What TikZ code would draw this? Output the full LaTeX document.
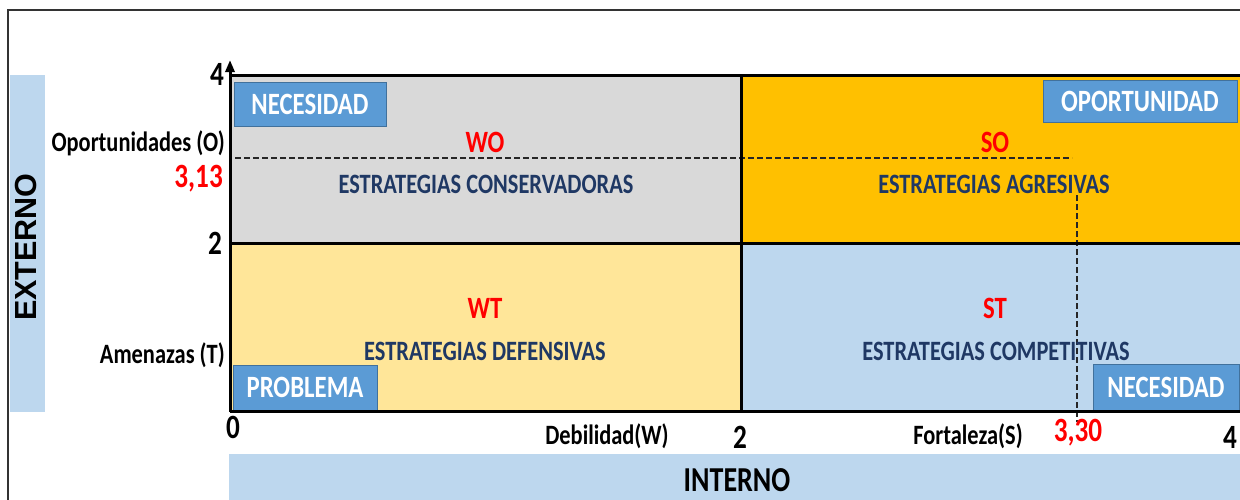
\documentclass[tikz,border=0pt]{standalone}
\usepackage{fontspec}
\usepackage{tikz}
\usetikzlibrary{arrows.meta}
\newfontfamily\calib{Carlito}[FakeStretch=0.8]
\newfontfamily\arialb{Liberation Sans}
\definecolor{gris}{HTML}{D9D9D9}
\definecolor{naranja}{HTML}{FFC000}
\definecolor{amarillo}{HTML}{FFE699}
\definecolor{celeste}{HTML}{BDD7EE}
\definecolor{azulcaja}{HTML}{5B9BD5}
\definecolor{bordecaja}{HTML}{41719C}
\definecolor{azultexto}{HTML}{1F3864}
\tikzset{
  etiq/.style={font=\calib\bfseries\fontsize{28}{30}\selectfont, inner sep=0pt},
  estr/.style={etiq, text=azultexto, anchor=base},
  cuad/.style={font=\calib\bfseries\fontsize{31}{33}\selectfont, text=red, inner sep=0pt, anchor=base},
  num/.style={font=\calib\bfseries\fontsize{34}{36}\selectfont, inner sep=0pt},
  valor/.style={font=\calib\bfseries\fontsize{34}{36}\selectfont, text=red, inner sep=0pt},
  caja/.style={fill=azulcaja, draw=bordecaja, line width=1pt, text=white,
    font=\calib\bfseries\fontsize{31}{33}\selectfont, inner sep=0pt},
  linea/.style={line width=3pt, black},
  guia/.style={line width=1.1pt, black!85, dash pattern=on 6pt off 3pt}
}

\begin{document}
\begin{tikzpicture}[x=1pt,y=-1pt]
\useasboundingbox (0,0) rectangle (1240,499);
% bandas
\fill [celeste] (10,75) rectangle (45,412);
\fill [celeste] (229,454) rectangle (1250,510);
\draw [line width=1.5pt, black!80] (8,510) -- (8,10) -- (1250,10);
% cuadrantes
\fill [gris] (230,75) rectangle (741,243);
\fill [naranja] (741,75) rectangle (1250,243);
\fill [amarillo] (230,243) rectangle (741,411);
\fill [celeste] (741,243) rectangle (1250,411);
% valores
\draw [guia] (235,158) -- (1072,158);
\draw [guia] (1077,195) -- (1077,422);
% cajas
\node [caja, minimum width=152pt, minimum height=44pt] (necesidad1) at (310,104) {NECESIDAD};
\node [caja, minimum width=194pt, minimum height=42pt] (oportunidad) at (1140,101) {OPORTUNIDAD};
\node [caja, minimum width=144pt, minimum height=45pt] (problema) at (305,387.5) {PROBLEMA};
\node [caja, minimum width=146pt, minimum height=46pt] (necesidad2) at (1166,387) {NECESIDAD};
% ejes
\draw [linea] (230,75) -- (1250,75);
\draw [linea] (230,243) -- (1250,243);
\draw [linea] (230,411) -- (1250,411);
\draw [linea] (741,75) -- (741,411);
\draw [linea, -{Triangle[width=9pt,length=12pt]}] (230,412) -- (230,60);
% textos
\draw (485,152) node [cuad] (wo) {WO};
\draw (486,193) node [estr] (conserv) {ESTRATEGIAS CONSERVADORAS};
\draw (995,152) node [cuad] (so) {SO};
\draw (994,193) node [estr] (agres) {ESTRATEGIAS AGRESIVAS};
\draw (485,318) node [cuad] (wt) {WT};
\draw (485,360) node [estr] (defens) {ESTRATEGIAS DEFENSIVAS};
\draw (995,318) node [cuad] (st) {ST};
\draw (996,360) node [estr] (compet) {ESTRATEGIAS COMPETITIVAS};
\draw (225,151) node [etiq, anchor=base east] (oport) {Oportunidades (O)};
\draw (223,187) node [valor, anchor=base east] (vo) {3,13};
\draw (225,363) node [etiq, anchor=base east] (amen) {Amenazas (T)};
\draw (224,85) node [num, anchor=base east] (y4) {4};
\draw (222,254) node [num, anchor=base east] (y2) {2};
\draw (233,438) node [num, anchor=base] (x0) {0};
\draw (607,444) node [etiq, anchor=base] (debil) {Debilidad(W)};
\draw (740,448) node [num, anchor=base] (x2) {2};
\draw (968,444) node [etiq, anchor=base] (fort) {Fortaleza(S)};
\draw (1078,441) node [valor, anchor=base] (vs) {3,30};
\draw (1230,448) node [num, anchor=base] (x4) {4};
\draw (26,247) node [font=\arialb\bfseries\fontsize{30.5}{32}\selectfont, rotate=90, inner sep=0pt] (externo) {EXTERNO};
\draw (737,491) node [font=\calib\bfseries\fontsize{35}{37}\selectfont, anchor=base, inner sep=0pt] (interno) {INTERNO};
\end{tikzpicture}
\end{document}
